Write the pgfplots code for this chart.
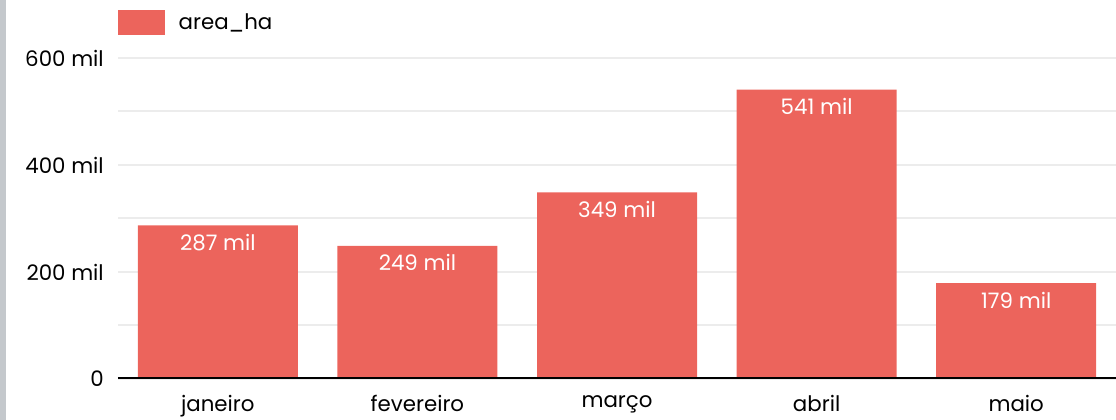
\documentclass[border=0pt]{standalone}
\usepackage{fontspec}
\setmainfont{Poppins}
\usepackage{pgfplots}
\pgfplotsset{compat=1.18}

\definecolor{barred}{RGB}{236,100,92}
\definecolor{gridgray}{RGB}{236,236,236}
\definecolor{sidebar}{RGB}{196,200,204}

\begin{document}
\begin{tikzpicture}
% 1 px of the reference = 0.75pt
\path[use as bounding box] (-88.5pt,-30.75pt) rectangle (748.5pt,284.25pt);
\fill[sidebar] (-88.5pt,-30.75pt) rectangle (-84pt,284.25pt);
\begin{axis}[
    scale only axis,
    width=748.5pt, height=240.75pt,
    at={(0,0)}, anchor=south west,
    xmin=-0.5, xmax=4.5,
    ymin=0, ymax=600,
    ybar, bar width=120pt,
    axis line style={draw=none},
    major tick length=0pt, minor tick length=0pt,
    /pgf/number format/assume math mode=true,
    xtick={0,...,4},
    xticklabels={janeiro,fevereiro,março,abril,maio},
    ytick={0,200,400,600},
    yticklabels={0,200 mil,400 mil,600 mil},
    minor ytick={100,300,500},
    ymajorgrids, yminorgrids,
    major grid style={gridgray, line width=1.5pt},
    minor grid style={gridgray, line width=1.5pt},
    tick label style={font=\fontsize{16}{18}\selectfont, text=black},
    yticklabel style={inner sep=0pt, xshift=-10.5pt},
    xticklabel style={inner sep=0pt, yshift=-12pt},
    nodes near coords={\pgfmathprintnumber{\pgfplotspointmeta} mil},
    nodes near coords style={anchor=center, yshift=-12.8pt, text=white,
        font=\fontsize{16}{18}\selectfont},
    legend style={at={(0,1)}, anchor=west, yshift=26.6pt,
        draw=none, fill=none, inner sep=0pt, outer sep=0pt,
        font=\fontsize{16}{18}\selectfont, /tikz/column sep=8.25pt},
    legend cell align=left,
]
\addplot[draw=none, fill=barred,
    legend image code/.code={\fill[barred] (0pt,-9.375pt) rectangle (35.25pt,9.375pt);}]
    coordinates {(0,287) (1,249) (2,349) (3,541) (4,179)};
\addlegendentry{area\_ha}
\draw[black, line width=2.6pt] (rel axis cs:0,0) -- (rel axis cs:1,0);
\end{axis}
\end{tikzpicture}
\end{document}
